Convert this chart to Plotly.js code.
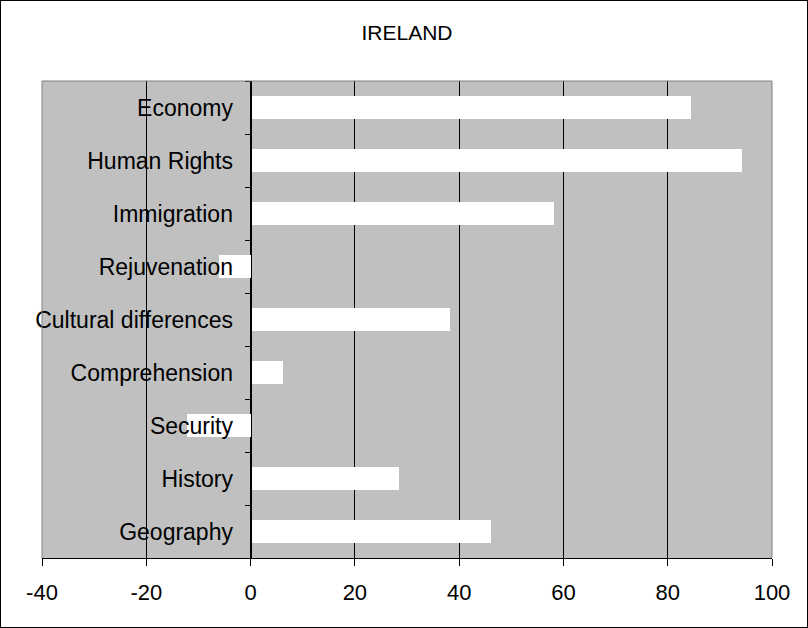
<!DOCTYPE html>
<html>
<head>
<meta charset="utf-8">
<script src="https://cdn.plot.ly/plotly-3.0.1.min.js"></script>
<style>
  html, body { margin: 0; padding: 0; background: #ffffff; }
  #chart { width: 806px; height: 626px; border: 1px solid #000000; }
</style>
</head>
<body>
<div id="chart"></div>
<script>
// Topics, listed top to bottom
const topics = [
  'Economy',
  'Human Rights',
  'Immigration',
  'Rejuvenation',
  'Cultural differences',
  'Comprehension',
  'Security',
  'History',
  'Geography'
];

// Net score per topic
const scores = [84.5, 94.2, 58.2, -6.0, 38.2, 6.3, -12.1, 28.4, 46.2];

// Value axis
const xRange = [-40, 100];
const xTicks = [-40, -20, 0, 20, 40, 60, 80, 100];

const font = 'Liberation Sans, Arial, sans-serif';

const trace = {
  type: 'bar',
  orientation: 'h',
  y: topics,
  x: scores,
  width: 0.44,
  marker: { color: '#ffffff', line: { width: 0 } },
  hoverinfo: 'x+y'
};

const zeroPos = (0 - xRange[0]) / (xRange[1] - xRange[0]);

const layout = {
  width: 806,
  height: 626,
  margin: { l: 41, r: 35, t: 80, b: 69 },
  paper_bgcolor: '#ffffff',
  plot_bgcolor: '#c0c0c0',
  font: { family: font, size: 22, color: '#000000' },
  showlegend: false,
  bargap: 0,
  title: {
    text: 'IRELAND',
    font: { family: font, size: 21, color: '#000000' },
    x: 0.5, xref: 'paper', xanchor: 'center',
    y: 1 - 32 / 626, yref: 'container', yanchor: 'middle'
  },
  xaxis: {
    range: xRange,
    tickmode: 'array',
    tickvals: xTicks,
    ticktext: xTicks.map(String),
    tickfont: { family: font, size: 22, color: '#000000' },
    ticks: 'outside',
    ticklen: 7,
    tickcolor: '#000000',
    ticklabelstandoff: 8,
    showgrid: true,
    gridcolor: '#000000',
    gridwidth: 1,
    zeroline: false,
    showline: true,
    linecolor: '#000000',
    linewidth: 1,
    fixedrange: true
  },
  yaxis: {
    type: 'category',
    autorange: 'reversed',
    anchor: 'free',
    position: zeroPos,
    tickfont: { family: font, size: 23, color: '#000000' },
    ticks: 'outside',
    tickson: 'boundaries',
    ticklen: 6,
    tickcolor: '#000000',
    ticklabelstandoff: 13,
    showgrid: false,
    zeroline: false,
    showline: true,
    linecolor: '#000000',
    linewidth: 1,
    fixedrange: true
  },
  shapes: [
    {
      type: 'path',
      xref: 'paper', yref: 'paper',
      path: 'M 0 0 L 0 1 L 1 1 L 1 0',
      line: { color: '#808080', width: 1 },
      layer: 'above'
    }
  ]
};

Plotly.newPlot('chart', [trace], layout, { displayModeBar: false, staticPlot: true });
</script>
</body>
</html>
